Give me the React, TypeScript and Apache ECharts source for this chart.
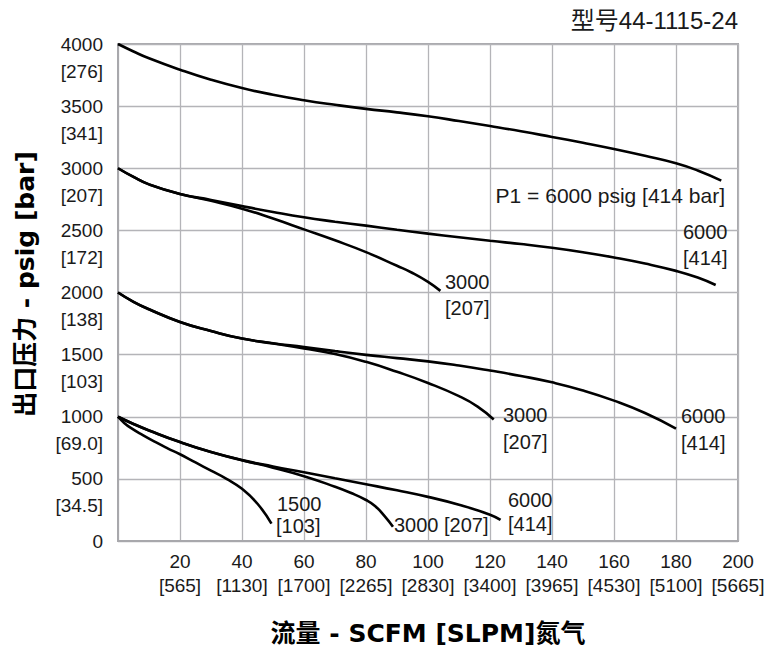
import React, { useEffect, useRef } from "react";
import * as echarts from "echarts";

// ---- axis ticks ----
const xTicks = [20, 40, 60, 80, 100, 120, 140, 160, 180, 200];
const xTicksSLPM = ["565", "1130", "1700", "2265", "2830", "3400", "3965", "4530", "5100", "5665"];
const yTicksPsig = [0, 500, 1000, 1500, 2000, 2500, 3000, 3500, 4000];
const yTicksBar = ["", "34.5", "69.0", "103", "138", "172", "207", "341", "276"];

// ---- curves (flow SCFM, outlet pressure psig) ----
// P2 start 4000, P1 = 6000
const flow4000_6000 = [0, 5, 10, 20, 30, 40, 50, 60, 70, 80, 90, 100, 110, 120, 130, 140, 150, 160, 170, 180, 187, 194.6];
const press4000_6000 = [4000, 3940, 3885, 3793, 3712, 3645, 3592, 3548, 3511, 3478, 3450, 3418, 3380, 3340, 3298, 3252, 3205, 3155, 3100, 3040, 2982, 2900];
// P2 start 3000, P1 = 6000
const flow3000_6000 = [0, 5, 10, 20, 30, 40, 50, 60, 70, 80, 90, 100, 110, 120, 130, 140, 150, 160, 170, 180, 187, 192.8];
const press3000_6000 = [3000, 2930, 2870, 2793, 2745, 2695, 2648, 2605, 2570, 2538, 2505, 2474, 2445, 2416, 2390, 2360, 2324, 2282, 2233, 2174, 2120, 2060];
// P2 start 3000, P1 = 3000
const flow3000_3000 = [0, 5, 10, 20, 30, 40, 50, 60, 70, 80, 90, 95, 100, 104];
const press3000_3000 = [3000, 2930, 2870, 2793, 2738, 2675, 2595, 2508, 2420, 2325, 2215, 2157, 2085, 2013];
// P2 start 2000, P1 = 6000
const flow2000_6000 = [0, 5, 10, 20, 30, 40, 50, 60, 70, 80, 90, 100, 110, 120, 130, 140, 150, 160, 170, 180];
const press2000_6000 = [2000, 1925, 1865, 1763, 1690, 1629, 1592, 1561, 1528, 1498, 1472, 1446, 1412, 1372, 1328, 1277, 1212, 1130, 1030, 905];
// P2 start 2000, P1 = 3000
const flow2000_3000 = [0, 5, 10, 20, 30, 40, 50, 60, 70, 80, 90, 100, 110, 116, 121.2];
const press2000_3000 = [2000, 1925, 1865, 1763, 1690, 1629, 1590, 1550, 1505, 1442, 1362, 1272, 1166, 1082, 978];
// P2 start 1000, P1 = 6000
const flow1000_6000 = [0, 5, 10, 20, 30, 40, 50, 60, 70, 80, 90, 100, 110, 120, 123.4];
const press1000_6000 = [1000, 942, 890, 796, 716, 651, 600, 553, 505, 457, 408, 355, 292, 212, 170];
// P2 start 1000, P1 = 3000
const flow1000_3000 = [0, 5, 10, 20, 30, 40, 50, 60, 70, 75, 80, 83, 86, 88.7];
const press1000_3000 = [1000, 942, 890, 796, 716, 650, 590, 522, 437, 388, 330, 280, 200, 115];
// P2 start 1000, P1 = 1500
const flow1000_1500 = [0, 2, 4, 8, 12, 16, 20, 25, 30, 35, 40, 45, 49.5];
const press1000_1500 = [1000, 950, 912, 852, 797, 746, 698, 632, 566, 500, 420, 300, 140];

const curves = [
  [flow4000_6000, press4000_6000],
  [flow3000_6000, press3000_6000],
  [flow3000_3000, press3000_3000],
  [flow2000_6000, press2000_6000],
  [flow2000_3000, press2000_3000],
  [flow1000_6000, press1000_6000],
  [flow1000_3000, press1000_3000],
  [flow1000_1500, press1000_1500],
];

const FONT = '"Liberation Sans", Arial, "Noto Sans CJK SC", sans-serif';
const BOLD_FONT = '"DejaVu Sans", "Noto Sans CJK SC", sans-serif';

const annotations = [
  { text: "P1 = 6000 psig [414 bar]", x: 725, y: 195, align: "right", size: 21 },
  { text: "6000", x: 683, y: 232, align: "left", size: 20 },
  { text: "[414]", x: 683, y: 258, align: "left", size: 20 },
  { text: "3000", x: 445, y: 282, align: "left", size: 20 },
  { text: "[207]", x: 445, y: 308, align: "left", size: 20 },
  { text: "3000", x: 503, y: 415, align: "left", size: 20 },
  { text: "[207]", x: 503, y: 442, align: "left", size: 20 },
  { text: "6000", x: 681, y: 416, align: "left", size: 20 },
  { text: "[414]", x: 681, y: 443, align: "left", size: 20 },
  { text: "1500", x: 277, y: 504, align: "left", size: 20 },
  { text: "[103]", x: 276, y: 526, align: "left", size: 20 },
  { text: "3000 [207]", x: 394, y: 525, align: "left", size: 20 },
  { text: "6000", x: 508, y: 500, align: "left", size: 20 },
  { text: "[414]", x: 508, y: 524, align: "left", size: 20 },
];

export default function App() {
  const ref = useRef<HTMLDivElement>(null);
  useEffect(() => {
    if (!ref.current) return;
    const chart = echarts.init(ref.current, undefined, { renderer: "svg" });
    const gridColor = "#b4b4b8";
    const borderColor = "#a8a8ac";
    const labelBase = {
      fontSize: 19,
      color: "#1a1a1a",
      fontFamily: FONT,
      showMinLabel: true,
      showMaxLabel: true,
      hideOverlap: false,
    };
    const option: any = {
      animation: false,
      backgroundColor: "#ffffff",
      grid: {
        left: 118,
        top: 44,
        right: 31,
        bottom: 108,
        show: true,
        borderColor,
        borderWidth: 2,
      },
      xAxis: {
        type: "value",
        min: 0,
        max: 200,
        interval: 20,
        axisLine: { show: true, lineStyle: { color: borderColor, width: 2 } },
        axisTick: { show: false },
        splitLine: { show: true, lineStyle: { color: gridColor, width: 1.3 } },
        axisLabel: {
          ...labelBase,
          margin: 8,
          lineHeight: 24,
          formatter: (v: number) => {
            const i = xTicks.indexOf(v);
            return i < 0 ? "" : `${v}\n[${xTicksSLPM[i]}]`;
          },
        },
      },
      yAxis: [
        {
          type: "value",
          min: 0,
          max: 4000,
          interval: 500,
          axisLine: { show: true, lineStyle: { color: borderColor, width: 2 } },
          axisTick: { show: false },
          splitLine: { show: true, lineStyle: { color: gridColor, width: 1.3 } },
          axisLabel: {
            ...labelBase,
            margin: 15,
            formatter: (v: number) => (yTicksPsig.indexOf(v) < 0 ? "" : `${v}`),
          },
        },
        {
          type: "value",
          position: "left",
          min: 0,
          max: 4000,
          interval: 500,
          axisLine: { show: false },
          axisTick: { show: false },
          splitLine: { show: false },
          axisLabel: {
            ...labelBase,
            margin: 15,
            verticalAlign: "top",
            lineHeight: 54,
            formatter: (v: number) => {
              const i = yTicksPsig.indexOf(v);
              return i < 0 || !yTicksBar[i] ? "" : `[${yTicksBar[i]}]`;
            },
          },
        },
      ],
      series: curves.map(([xs, ys]) => ({
        type: "line",
        data: xs.map((x, i) => [x, ys[i]]),
        smooth: 0.5,
        showSymbol: false,
        symbol: "none",
        lineStyle: { color: "#000000", width: 2.6 },
        z: 3,
      })),
      graphic: [
        {
          type: "text",
          x: 738,
          y: 20,
          style: {
            text: "型号44-1115-24",
            font: `24px ${FONT}`,
            fill: "#1a1a1a",
            textAlign: "right",
            textVerticalAlign: "middle",
          },
        },
        {
          type: "text",
          x: 428,
          y: 633,
          style: {
            text: "流量 - SCFM [SLPM]氮气",
            font: `bold 25px ${BOLD_FONT}`,
            fill: "#000000",
            textAlign: "center",
            textVerticalAlign: "middle",
          },
        },
        {
          type: "text",
          x: 25,
          y: 284,
          rotation: Math.PI / 2,
          style: {
            text: "出口压力 - psig [bar]",
            font: `bold 25px ${BOLD_FONT}`,
            fill: "#000000",
            textAlign: "center",
            textVerticalAlign: "middle",
          },
        },
        ...annotations.map((a) => ({
          type: "text",
          x: a.x,
          y: a.y,
          z: 10,
          style: {
            text: a.text,
            font: `${a.size}px ${FONT}`,
            fill: "#1a1a1a",
            textAlign: a.align,
            textVerticalAlign: "middle",
          },
        })),
      ],
    };
    chart.setOption(option);
    return () => chart.dispose();
  }, []);
  return (
    <div
      ref={ref}
      style={{ position: "fixed", left: 0, top: 0, width: 769, height: 649, background: "#fff" }}
    />
  );
}
